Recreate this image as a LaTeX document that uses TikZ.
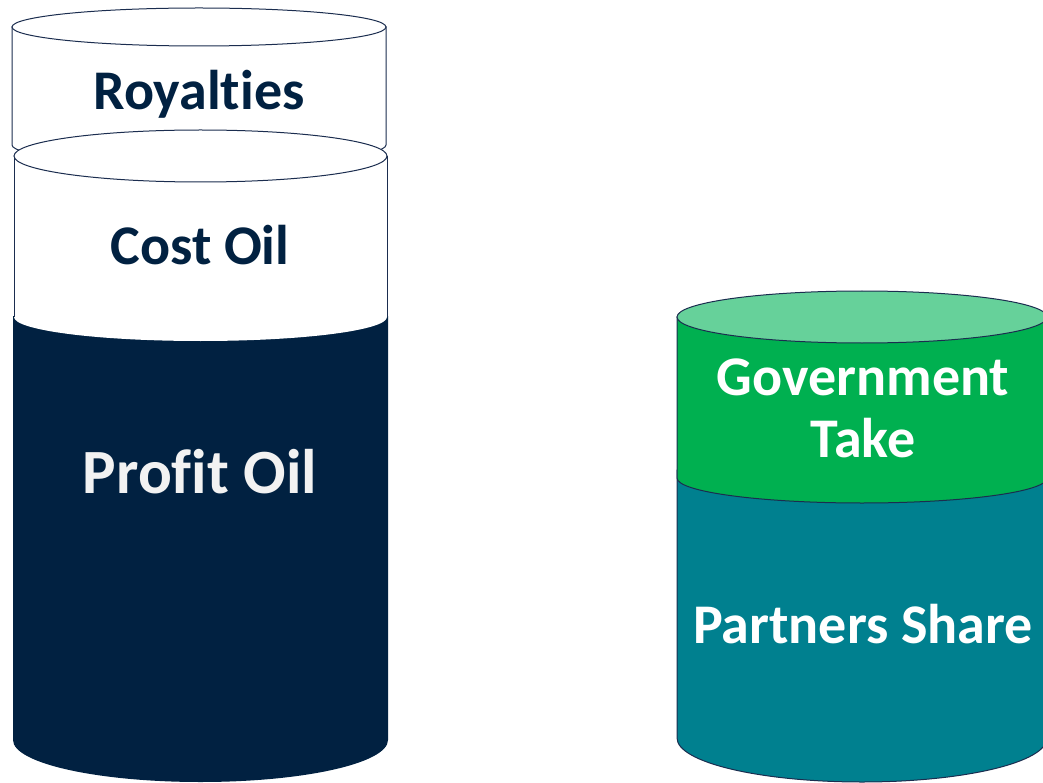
\documentclass[tikz,border=0pt]{standalone}
\usepackage{fontspec}
\setmainfont{Carlito}[Ligatures={NoCommon}]
\definecolor{navy}{HTML}{012141}
\definecolor{edge}{HTML}{1B2D4F}
\definecolor{green}{HTML}{00B050}
\definecolor{lgreen}{HTML}{66D19A}
\definecolor{teal}{HTML}{00808F}
\definecolor{offwhite}{HTML}{F2F2F2}
\tikzset{
  outline/.style={draw=edge, line width=1pt},
  lbl/.style={anchor=base, inner sep=0pt, font=\fontsize{56}{62}\selectfont\bfseries},
}
\begin{document}
\begin{tikzpicture}[x=1pt, y=-1pt]
\useasboundingbox (0,0) rectangle (1043,783);
% Profit Oil (navy)
\fill[navy] (13,316) -- (13,740) arc[start angle=180, end angle=0, x radius=187.5, y radius=42] -- (388,316) -- cycle;
% Royalties
\path[outline, fill=white] (12,27) -- (12,145) arc[start angle=180, end angle=0, x radius=187, y radius=19] -- (386,27) -- cycle;
\path[outline, fill=white] (199,27) ellipse[x radius=187, y radius=19];
% Cost Oil
\fill[white] (14,156) -- (14,317) arc[start angle=180, end angle=0, x radius=186.5, y radius=24] -- (387,156) -- cycle;
\draw[edge, line width=1pt] (14,156) -- (14,317) (387,156) -- (387,317);
\path[outline, fill=white] (200.5,156) ellipse[x radius=186.5, y radius=26];
% right cylinder: Partners Share (teal)
\path[outline, fill=teal] (677,470) -- (677,738) arc[start angle=180, end angle=0, x radius=185, y radius=44] -- (1047,470) -- cycle;
% Government Take (green)
\path[outline, fill=green] (677,317) -- (677,478) arc[start angle=180, end angle=0, x radius=185, y radius=25] -- (1047,317) -- cycle;
\path[outline, fill=lgreen] (862,317) ellipse[x radius=185, y radius=26];
% labels
\node[lbl, text=navy] (roy) at (199,110) {Royalties};
\node[lbl, text=navy] (cost) at (200,265) {Cost Oil};
\node[lbl, text=offwhite, font=\fontsize{63}{69}\selectfont\bfseries] (profit) at (200,493) {Profit Oil};
\node[lbl, text=white] (gov) at (863,395) {Government};
\node[lbl, text=white] (take) at (863,457) {Take};
\node[lbl, text=white] (part) at (863,643) {Partners Share};
\end{tikzpicture}
\end{document}
